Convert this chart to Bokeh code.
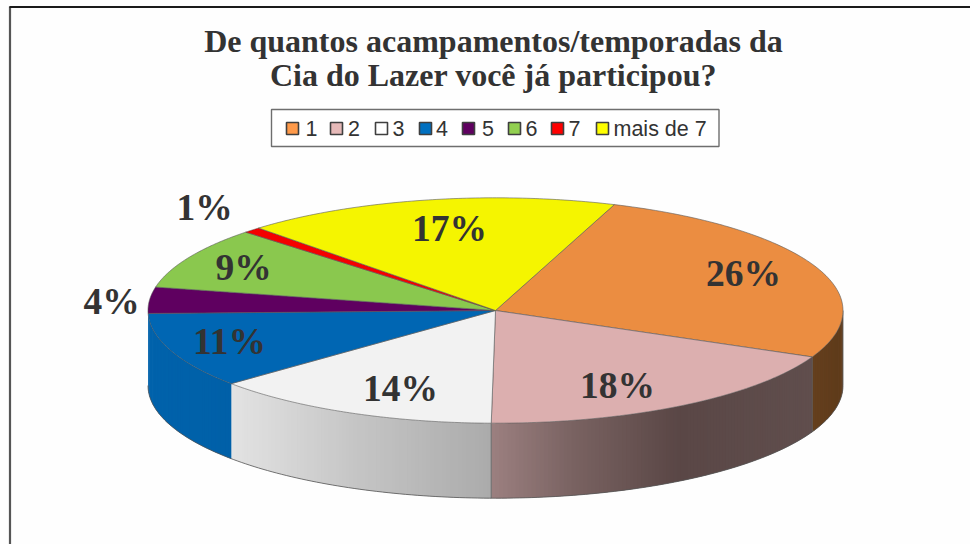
import numpy as np
from bokeh.plotting import figure
from bokeh.models import Range1d
from bokeh.core.properties import value
from bokeh.embed import file_html
from bokeh.resources import INLINE

# ---- data ----
categories = ["1", "2", "3", "4", "5", "6", "7", "mais de 7"]
shares = [26.2, 18.44, 13.56, 10.83, 3.75, 8.9, 0.83, 17.49]
pct_labels = ["26%", "18%", "14%", "11%", "4%", "9%", "1%", "17%"]
title_lines = ["De quantos acampamentos/temporadas da", "Cia do Lazer você já participou?"]

# ---- style ----
top_colors = ["#EB8D41", "#DCAFAF", "#F2F2F2", "#0066B3", "#5F0060", "#8AC84E", "#F50000", "#F5F500"]
legend_colors = ["#FF9A4A", "#E6B9B8", "#FFFFFF", "#0070C0", "#5F0060", "#92D050", "#FF0000", "#FFFF00"]
side_stops = {
    0: [(0.0, "#5E3A1A"), (1.0, "#65401E")],
    1: [(0.0, "#604E4D"), (0.42, "#5A4746"), (0.75, "#7A6362"), (1.0, "#9C8080")],
    2: [(0.0, "#ABABAB"), (0.5, "#C4C4C4"), (1.0, "#E3E3E3")],
    3: [(0.0, "#0060A8"), (1.0, "#0062AB")],
    4: [(0.0, "#0062AB"), (1.0, "#0062AB")],
}
CX, CY, RX, RY, DEPTH = 495.0, 310.0, 347.5, 112.7, 75.0
START_DEG = 70.0
label_xy = [(743, 273), (617, 385), (400, 388), (229, 341), (111, 301), (243, 267), (204, 207), (449, 228)]
legend_swatch_x = [286, 330, 375, 419, 462, 508, 551, 596]
legend_text_x = [305, 347.5, 392, 435.5, 481.5, 525, 568, 613]


def hex2rgb(h):
    return np.array([int(h[i:i + 2], 16) for i in (1, 3, 5)], dtype=float)


def grad(stops, f):
    for (a, ca), (b, cb) in zip(stops, stops[1:]):
        if f <= b:
            c = hex2rgb(ca) + (hex2rgb(cb) - hex2rgb(ca)) * (f - a) / max(b - a, 1e-9)
            return "#%02x%02x%02x" % tuple(int(round(v)) for v in c)
    return stops[-1][1]


def ex(t):
    return CX + RX * np.cos(np.radians(t))


def ey(t, d=0.0):
    return CY - RY * np.sin(np.radians(t)) + d


p = figure(width=970, height=544, output_backend="svg", toolbar_location=None,
           x_range=Range1d(0, 970), y_range=Range1d(544, 0),
           x_axis_location=None, y_axis_location=None, min_border=0,
           outline_line_color=None, background_fill_color="#FEFEFE", border_fill_color="#FEFEFE",
           margin=(0, 0, 0, 0))
p.grid.visible = False

# frame
p.line([9.5, 9.5], [6, 544], line_color="#555555", line_width=2.2)
p.line([9, 970], [6.5, 6.5], line_color="#1A1A1A", line_width=2)

# slice angle limits
edges = START_DEG - np.cumsum([0.0] + shares) * 3.6

# side wall
for i, stops in side_stops.items():
    a, b = edges[i], edges[i + 1]
    hi, lo = min(a, 0.0), max(b, -180.0)
    ts = np.linspace(lo, hi, max(int((hi - lo) * 1.5), 2) + 1)
    xs, ys, cs = [], [], []
    x0, x1 = ex(lo), ex(hi)
    for j in range(len(ts) - 1):
        t0, t1 = ts[j], ts[min(j + 2, len(ts) - 1)]
        xs.append([ex(t0), ex(t1), ex(t1), ex(t0)])
        ys.append([ey(t0), ey(t1), ey(t1, DEPTH), ey(t0, DEPTH)])
        cs.append(grad(stops, 1 - (0.5 * (ex(ts[j]) + ex(ts[j + 1])) - x0) / (x1 - x0)))
    p.patches(xs, ys, fill_color=cs, line_color=None)
    if a < 0 and i < 3:
        p.line([ex(a), ex(a)], [ey(a), ey(a, DEPTH)], line_color="#555555", line_width=0.8)

# outer outline of the wall
tt = np.linspace(0, -180, 181)
p.line(ex(tt), ey(tt, DEPTH), line_color="#555555", line_width=0.8)
p.line([ex(0), ex(0)], [ey(0), ey(0, DEPTH)], line_color="#555555", line_width=0.8)

# top face
for i, col in enumerate(top_colors):
    ts = np.linspace(edges[i], edges[i + 1], 90)
    p.patch(np.r_[CX, ex(ts)], np.r_[CY, ey(ts)], fill_color=col, line_color="#5A5A5A",
            line_width=0.7, line_alpha=0.85)

# percent labels
p.text([q[0] for q in label_xy], [q[1] for q in label_xy], text=pct_labels, text_align="center",
       text_baseline="middle", text_font=value("Liberation Serif"), text_font_style="bold",
       text_font_size="37.5px", text_color="#333333")

# title
p.text([493, 493], [40, 74], text=title_lines, text_align="center", text_baseline="middle",
       text_font=value("Liberation Serif"), text_font_style="bold", text_font_size="32px",
       text_color="#333333")

# legend
p.quad(left=[271], right=[718.5], top=[109], bottom=[146], fill_color="#FFFFFF",
       line_color="#6E6E6E", line_width=1.4)
p.quad(left=legend_swatch_x, right=[x + 12 for x in legend_swatch_x], top=[122] * 8, bottom=[134] * 8,
       fill_color=legend_colors, line_color="#3F3F3F", line_width=1.6)
p.text(legend_text_x, [128] * 8, text=categories, text_align="left", text_baseline="middle",
       text_font=value("Liberation Sans"), text_font_size="21.5px", text_color="#333333")

open("out.html", "w").write(file_html(p, INLINE))
